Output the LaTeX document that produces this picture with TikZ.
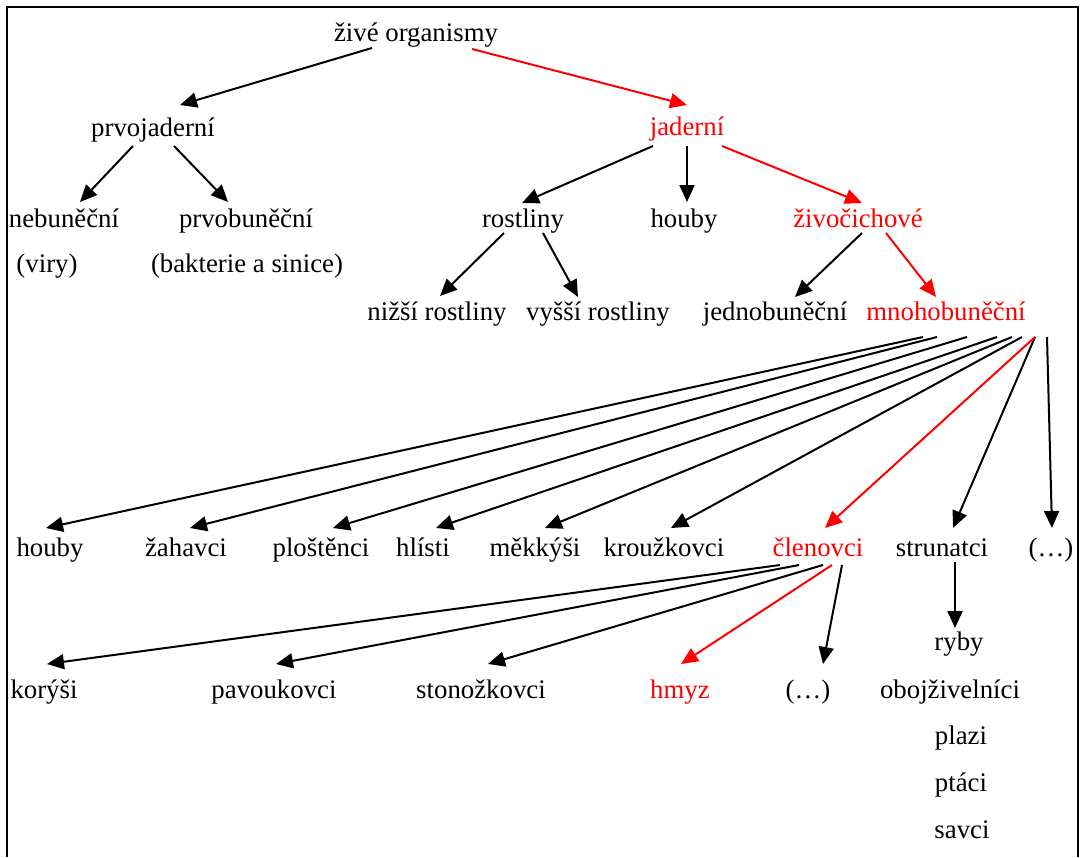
\documentclass[tikz,border=0pt]{standalone}
\usepackage{fontspec}
\setmainfont{Liberation Serif}
\usetikzlibrary{arrows.meta}

\tikzset{
  lbl/.style={font=\fontsize{26.8}{32}\selectfont, anchor=base, inner sep=0pt},
  hl/.style={red},
  arr/.style={-{Triangle[length=17pt,width=15pt]}, line width=2pt},
}

\begin{document}
\begin{tikzpicture}[x=1pt, y=-1pt]
    \useasboundingbox (0,0) rectangle (1081,857);
    \draw[line width=1.5pt] (7,857) -- (7,7) -- (1078,7) -- (1078,857);

    % upper levels
    \node[lbl] (zive) at (416,41) {živé organismy};
    \node[lbl] (prvo) at (153,136) {prvojaderní};
    \node[lbl,hl] (jad) at (687,135) {jaderní};
    \node[lbl] (nebu) at (64,227) {nebuněční};
    \node[lbl] (prvob) at (246,227) {prvobuněční};
    \node[lbl] (viry) at (47,272) {(viry)};
    \node[lbl] (bakt) at (247,272) {(bakterie a sinice)};
    \node[lbl] (rost) at (523,227) {rostliny};
    \node[lbl] (houbyA) at (684,227) {houby};
    \node[lbl,hl] (ziv) at (858,227) {živočichové};
    \node[lbl] (nizsi) at (437,320) {nižší rostliny};
    \node[lbl] (vyssi) at (598,320) {vyšší rostliny};
    \node[lbl] (jedno) at (775,320) {jednobuněční};
    \node[lbl,hl] (mnoho) at (946,320) {mnohobuněční};

    % animal groups
    \foreach \n/\x/\t in {houbyB/50/houby, zahavci/186/žahavci, plost/321/ploštěnci,
        hlisti/423/hlísti, mekk/535/měkkýši, krouz/664/kroužkovci,
        strun/942/strunatci, etcA/1051/(…)}
      \node[lbl] (\n) at (\x,556) {\t};
    \node[lbl,hl] (clen) at (818,556) {členovci};

    \foreach \n/\x/\t in {koryse/44/korýši, pavouk/274/pavoukovci,
        stonoz/481/stonožkovci, etcB/808/(…)}
      \node[lbl] (\n) at (\x,698) {\t};
    \node[lbl,hl] (hmyz) at (680,698) {hmyz};

    \node[lbl] (ryby) at (959,650) {ryby};
    \node[lbl] (oboj) at (950,698) {obojživelníci};
    \node[lbl] (plazi) at (961,744) {plazi};
    \node[lbl] (ptaci) at (961,791) {ptáci};
    \node[lbl] (savci) at (962,838) {savci};

    % arrows
    \draw[arr] ([xshift=-44pt,yshift=-7pt]zive.base) -- ([xshift=27pt,yshift=31pt]prvo.base);
    \draw[arr,hl] ([xshift=56pt,yshift=-8pt]zive.base) -- ([yshift=30pt]jad.base);
    \draw[arr] ([xshift=-20pt,yshift=-10pt]prvo.base) -- ([xshift=16pt,yshift=25pt]nebu.base);
    \draw[arr] ([xshift=21pt,yshift=-10pt]prvo.base) -- ([xshift=-18pt,yshift=25pt]prvob.base);
    \draw[arr] ([xshift=-34pt,yshift=-11pt]jad.base) -- ([xshift=-1pt,yshift=24pt]rost.base);
    \draw[arr] ([yshift=-11pt]jad.base) -- ([xshift=3pt,yshift=25pt]houbyA.base);
    \draw[arr,hl] ([xshift=35pt,yshift=-11pt]jad.base) -- ([xshift=4pt,yshift=24pt]ziv.base);
    \draw[arr] ([xshift=-19pt,yshift=-6pt]rost.base) -- ([xshift=3pt,yshift=24pt]nizsi.base);
    \draw[arr] ([xshift=20pt,yshift=-6pt]rost.base) -- ([xshift=-20pt,yshift=23pt]vyssi.base);
    \draw[arr] ([xshift=4pt,yshift=-6pt]ziv.base) -- ([xshift=20pt,yshift=23pt]jedno.base);
    \draw[arr,hl] ([xshift=28pt,yshift=-6pt]ziv.base) -- ([xshift=-10pt,yshift=23pt]mnoho.base);

    \foreach \n/\a/\b in {houbyB/-23/-4, zahavci/-9/4, plost/21/12, hlisti/51/13,
        mekk/66/10, krouz/76/7, strun/89/11, etcA/101/1}
      \draw[arr] ([xshift=\a pt,yshift=-17pt]mnoho.base) -- ([xshift=\b pt,yshift=28pt]\n.base);
    \draw[arr,hl] ([xshift=89pt,yshift=-17pt]mnoho.base) -- ([xshift=7pt,yshift=28pt]clen.base);

    \foreach \n/\a/\b in {koryse/-38/3, pavouk/-19/2, stonoz/5/7, etcB/24/15}
      \draw[arr] ([xshift=\a pt,yshift=-9pt]clen.base) -- ([xshift=\b pt,yshift=34pt]\n.base);
    \draw[arr,hl] ([xshift=14pt,yshift=-9pt]clen.base) -- ([xshift=1pt,yshift=34pt]hmyz.base);

    \draw[arr] ([xshift=13pt,yshift=-6pt]strun.base) -- ([xshift=-4pt,yshift=22pt]ryby.base);
\end{tikzpicture}
\end{document}
